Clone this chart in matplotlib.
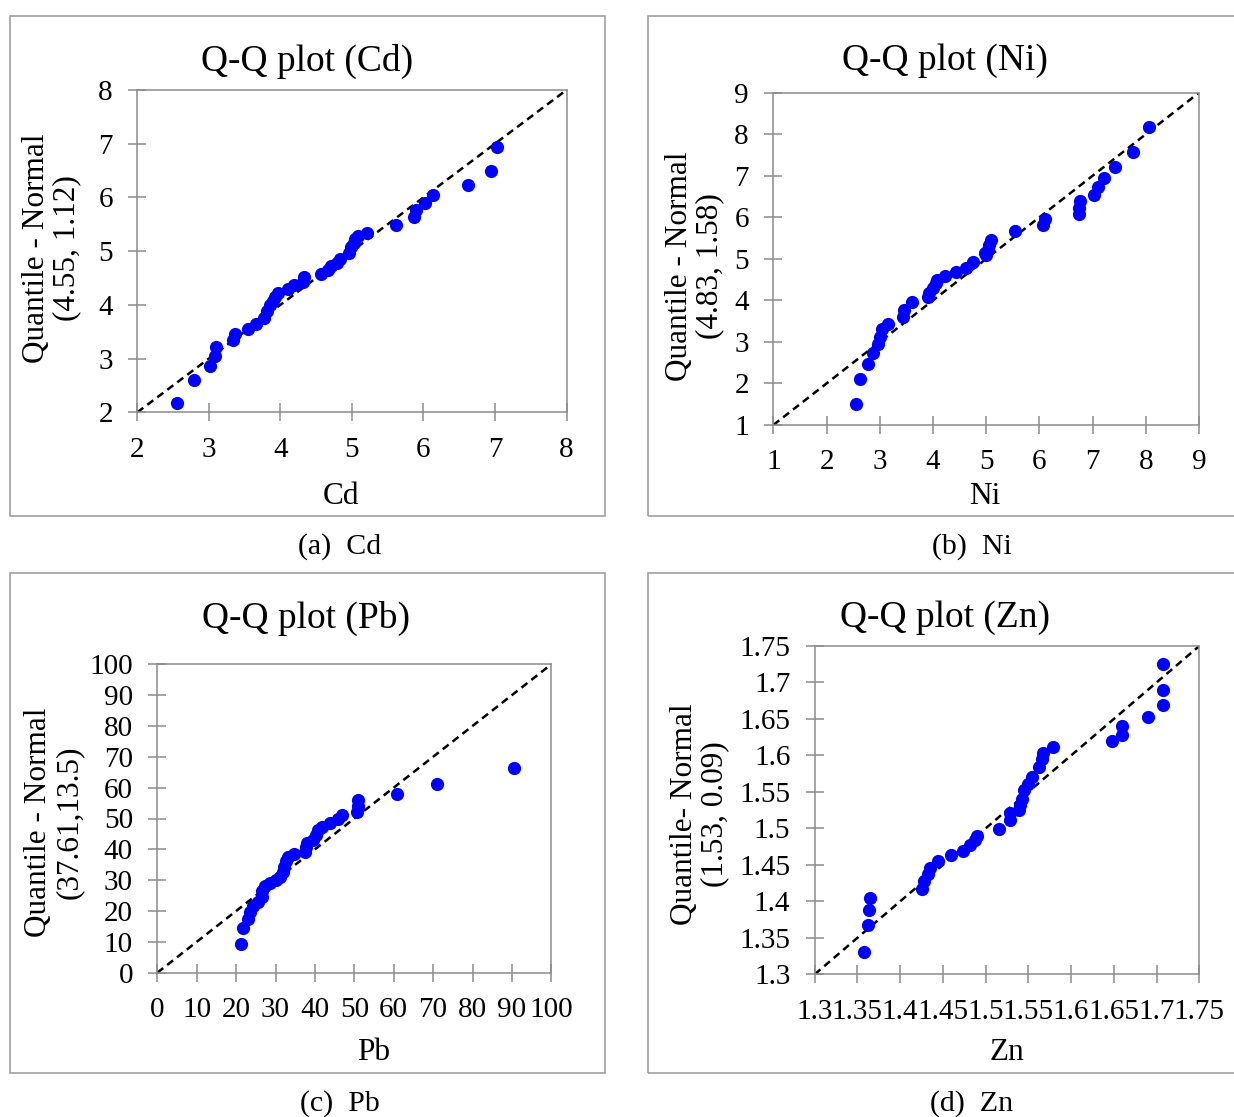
import matplotlib
matplotlib.use("Agg")
import matplotlib.pyplot as plt
from matplotlib.patches import Rectangle

plt.rcParams["font.family"] = ["Liberation Serif", "DejaVu Serif"]

# ---- data (sorted sample vs normal quantile) ----
cd_x = [2.55, 2.79, 3.02, 3.08, 3.10, 3.34, 3.36, 3.55, 3.66, 3.77, 3.82, 3.86, 3.90,
        3.93, 3.97, 4.11, 4.19, 4.32, 4.33, 4.57, 4.67, 4.71, 4.79, 4.84, 4.96, 4.99,
        5.03, 5.05, 5.08, 5.21, 5.62, 5.87, 5.89, 6.02, 6.13, 6.62, 6.95, 7.03]
cd_q = [2.17, 2.60, 2.86, 3.05, 3.21, 3.34, 3.46, 3.56, 3.65, 3.76, 3.88, 3.99, 4.07,
        4.15, 4.22, 4.30, 4.37, 4.43, 4.51, 4.58, 4.65, 4.72, 4.78, 4.86, 4.97, 5.08,
        5.16, 5.22, 5.28, 5.34, 5.49, 5.64, 5.77, 5.90, 6.04, 6.24, 6.49, 6.93]

ni_x = [2.56, 2.63, 2.78, 2.88, 2.97, 3.00, 3.05, 3.16, 3.44, 3.45, 3.61, 3.90, 3.92,
        4.00, 4.05, 4.08, 4.23, 4.43, 4.63, 4.76, 4.97, 5.00, 5.03, 5.06, 5.10, 5.55,
        6.07, 6.10, 6.75, 6.75, 6.77, 7.02, 7.10, 7.22, 7.42, 7.76, 8.06]
ni_q = [1.50, 2.10, 2.47, 2.74, 2.94, 3.12, 3.30, 3.44, 3.59, 3.78, 3.96, 4.07, 4.18,
        4.31, 4.41, 4.49, 4.59, 4.69, 4.78, 4.93, 5.13, 5.09, 5.21, 5.33, 5.45, 5.66,
        5.82, 5.95, 6.08, 6.23, 6.39, 6.54, 6.72, 6.94, 7.21, 7.57, 8.18]

pb_x = [21.2, 21.8, 23.1, 23.5, 24.2, 25.6, 26.5, 26.6, 27.3, 28.6, 30.1, 31.1, 31.8,
        32.2, 32.7, 33.1, 34.7, 37.5, 37.7, 38.1, 39.6, 40.3, 40.7, 41.7, 43.8, 45.8,
        47.0, 50.8, 50.9, 51.0, 60.9, 70.9, 90.6]
pb_q = [9.2, 14.5, 17.4, 19.8, 21.6, 23.0, 24.6, 26.6, 28.1, 29.2, 30.1, 31.1, 32.8,
        34.4, 36.3, 37.6, 38.4, 39.2, 40.9, 42.0, 43.0, 44.6, 46.3, 47.3, 48.4, 49.8,
        51.0, 52.2, 54.0, 56.0, 57.9, 61.1, 66.3]

zn_x = [1.358, 1.362, 1.363, 1.365, 1.426, 1.428, 1.433, 1.435, 1.444, 1.460, 1.474,
        1.482, 1.488, 1.490, 1.516, 1.529, 1.529, 1.539, 1.540, 1.542, 1.545, 1.549,
        1.554, 1.562, 1.566, 1.567, 1.579, 1.648, 1.660, 1.660, 1.690, 1.707, 1.707, 1.707]
zn_q = [1.331, 1.367, 1.388, 1.404, 1.417, 1.428, 1.437, 1.446, 1.455, 1.463, 1.469,
        1.477, 1.484, 1.490, 1.499, 1.511, 1.521, 1.525, 1.532, 1.540, 1.553, 1.561,
        1.571, 1.584, 1.595, 1.603, 1.611, 1.620, 1.628, 1.640, 1.653, 1.669, 1.690, 1.726]

cd_ticks = [2, 3, 4, 5, 6, 7, 8]
ni_ticks = [1, 2, 3, 4, 5, 6, 7, 8, 9]
pb_ticks = [0, 10, 20, 30, 40, 50, 60, 70, 80, 90, 100]
zn_ticks = [1.3, 1.35, 1.4, 1.45, 1.5, 1.55, 1.6, 1.65, 1.7, 1.75]

W, H = 1234, 1117
fig = plt.figure(figsize=(W / 100, H / 100), dpi=100)

GRAY = "#8c8c8c"


def px_box(l, r, t, b):
    return [l / W, 1 - b / H, (r - l) / W, (b - t) / H]


def ftext(x, y, s, **kw):
    fig.text(x / W, 1 - y / H, s, ha="center", va="center", **kw)


panels = [
    # data x, data q, ticks, axes box, title, title pos, ylabel, ylabel pos, xlabel, xlabel pos, caption, caption pos, frame
    (cd_x, cd_q, cd_ticks, (137.3, 566.5, 90, 412.3), "Q-Q plot (Cd)", (307, 61),
     "Quantile - Normal\n(4.55, 1.12)", (52, 248), "Cd", (341, 496), "(a)  Cd", (340, 547), (10, 605, 16, 516)),
    (ni_x, ni_q, ni_ticks, (773.3, 1199, 92.7, 425), "Q-Q plot (Ni)", (945, 61),
     "Quantile - Normal\n(4.83, 1.58)", (695, 266), "Ni", (985, 496), "(b)  Ni", (972, 547), (648, 1250, 16, 516)),
    (pb_x, pb_q, pb_ticks, (157.3, 551.3, 664.3, 972.7), "Q-Q plot (Pb)", (306, 618),
     "Quantile - Normal\n(37.61,13.5)", (54, 822), "Pb", (374, 1053), "(c)  Pb", (340, 1104), (10, 605, 573, 1073)),
    (zn_x, zn_q, zn_ticks, (814.7, 1199.3, 646, 974.3), "Q-Q plot (Zn)", (945, 618),
     "Quantile- Normal\n(1.53, 0.09)", (700, 814), "Zn", (1007, 1053), "(d)  Zn", (972, 1104), (648, 1250, 573, 1073)),
]

for xs, qs, ticks, bx, title, tpos, ylab, ypos, xlab, xpos, cap, cpos, frame in panels:
    fl, fr, ft, fb = frame
    fig.patches.append(Rectangle((fl / W, 1 - fb / H), (fr - fl) / W, (fb - ft) / H,
                                 transform=fig.transFigure, fill=False,
                                 edgecolor="#a0a0a0", lw=1.2))

    ax = fig.add_axes(px_box(*bx))
    lo, hi = ticks[0], ticks[-1]
    ax.plot([lo, hi], [lo, hi], color="black", lw=1.8, linestyle=(0, (3, 2)), zorder=2)
    ax.plot(xs, qs, "o", color="#0000ff", ms=9.5, mec="none", zorder=3)
    ax.set_xlim(lo, hi)
    ax.set_ylim(lo, hi)
    ax.set_xticks(ticks)
    ax.set_yticks(ticks)
    labels = [f"{t:g}" for t in ticks]
    ax.set_xticklabels(labels)
    ax.set_yticklabels(labels)
    ax.tick_params(direction="inout", length=13, width=1.1, color=GRAY,
                   labelsize=21, pad=11)
    for s in ax.spines.values():
        s.set_color(GRAY)
        s.set_linewidth(1.1)

    ftext(*tpos, title, fontsize=27)
    ftext(*ypos, ylab, fontsize=22.5, rotation=90, multialignment="center",
          linespacing=1.05)
    ftext(*xpos, xlab, fontsize=22.5)
    ftext(*cpos, cap, fontsize=21.5)

fig.savefig("out.png", dpi=100)
